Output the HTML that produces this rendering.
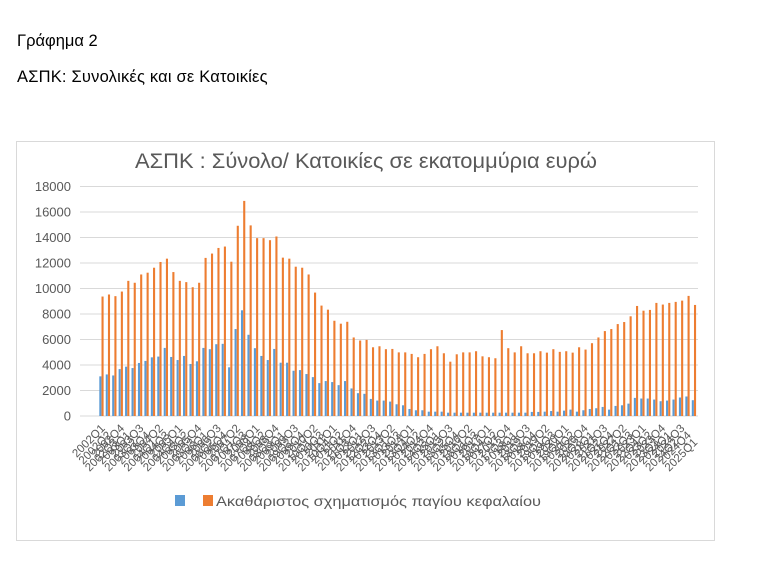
<!DOCTYPE html>
<html><head><meta charset="utf-8"><style>
body{margin:0;background:#fff;width:779px;height:562px;overflow:hidden;font-family:"Liberation Sans","DejaVu Sans",sans-serif;}
.t{position:absolute;left:17px;font-size:16.5px;color:#000;}
</style></head><body>
<div class="t" style="top:32px">Γράφημα 2</div>
<div class="t" style="top:68px;letter-spacing:0.2px">ΑΣΠΚ: Συνολικές και σε Κατοικίες</div>
<svg id="s" width="779" height="562" style="position:absolute;left:0;top:0" xmlns="http://www.w3.org/2000/svg">
<rect x="16.5" y="141.5" width="698" height="399" fill="none" stroke="#d9d9d9"/>
<text x="135" y="168" textLength="462" lengthAdjust="spacingAndGlyphs" font-size="21" fill="#595959" font-family="Liberation Sans, sans-serif">ΑΣΠΚ : Σύνολο/ Κατοικίες σε εκατομμύρια ευρώ</text>
<g id="g" font-family="Liberation Sans, sans-serif"></g>
<rect x="175" y="495" width="10" height="11" fill="#5B9BD5"/>
<rect x="203" y="495" width="10" height="11" fill="#ED7D31"/>
<text x="216" y="506" font-size="14" textLength="325" lengthAdjust="spacingAndGlyphs" fill="#595959" font-family="Liberation Sans, sans-serif">Ακαθάριστος σχηματισμός  παγίου κεφαλαίου</text>
</svg>
<script>
var o=[9370,9530,9400,9760,10600,10450,11100,11240,11630,12080,12340,11290,10600,10500,10100,10450,12400,12740,13180,13290,12100,14920,16870,14950,13950,13950,13790,14080,12420,12340,11710,11630,11100,9680,8660,8340,7470,7240,7390,6160,5920,5970,5390,5470,5240,5260,
4990,4990,4870,4610,4870,5240,5470,4920,4260,4840,4990,4990,5080,4680,4610,4530,6740,5320,4990,5470,4920,4920,5080,4970,5240,5030,5080,4970,5390,5210,5710,6160,6660,6820,7210,7370,7820,8630,8260,8320,8870,8740,8870,8950,9050,9420,8710];
var b=[3110,3260,3180,3680,3870,3760,4160,4320,4600,4660,5340,4630,4390,4710,4080,4290,5340,5240,5630,5660,3820,6820,8290,6370,5320,4710,4390,5260,4180,4180,3550,3600,3290,3050,2580,2740,2660,2420,2740,2160,1790,1740,1340,1210,1210,1130,
920,840,550,450,450,340,340,340,260,260,260,260,260,260,260,260,260,260,260,260,260,320,320,340,390,340,420,500,340,450,550,610,710,500,790,840,970,1420,1370,1370,1290,1160,1210,1290,1450,1530,1240];
var h='',Y0=416,k=25.5/2000;
for(var v=0;v<=18000;v+=2000){var y=Y0-v*k;h+='<line x1="80" x2="698" y1="'+y+'" y2="'+y+'" stroke="#d9d9d9"/><text x="71" y="'+(y+4.5)+'" text-anchor="end" font-size="13" fill="#595959">'+v+'</text>';}
for(var i=0;i<o.length;i++){var c=101.7+i*6.44,bv=b[i]||260;
h+='<rect x="'+(c-2.4)+'" y="'+(Y0-bv*k)+'" width="2.1" height="'+(bv*k)+'" fill="#5B9BD5"/>';
h+='<rect x="'+(c-0.2)+'" y="'+(Y0-o[i]*k)+'" width="2.1" height="'+(o[i]*k)+'" fill="#ED7D31"/>';
var yr=2002+Math.floor(i/4),q=i%4+1,ly=429+(i%3)*7;
h+='<text transform="translate('+(c+4)+','+ly+') rotate(-45)" text-anchor="end" font-size="11.5" fill="#595959">'+yr+'Q'+q+'</text>';}
document.getElementById('g').innerHTML=h;
</script>
</body></html>
